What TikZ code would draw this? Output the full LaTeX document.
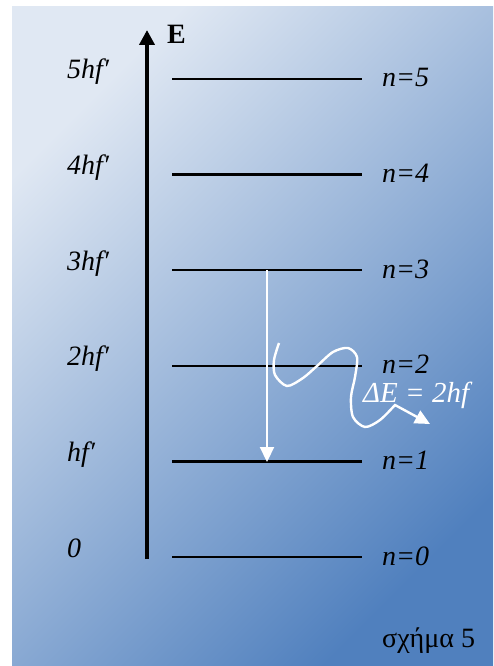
\documentclass[tikz,border=0pt]{standalone}
\usepackage{fontspec}
\setmainfont{Liberation Serif}
\usetikzlibrary{arrows.meta}
\definecolor{bgtop}{RGB}{224,232,243}
\definecolor{bgbot}{RGB}{80,128,190}

\begin{document}
\begin{tikzpicture}[x=1pt,y=-1pt,
  level/.style={line width=2.3pt},
  elabel/.style={anchor=base west,inner sep=0pt,font=\fontsize{28}{32}\selectfont\itshape},
  nlabel/.style={anchor=base west,inner sep=0pt,font=\fontsize{28}{32}\selectfont\itshape}]
  \useasboundingbox (0,0) rectangle (493,666);
  % background
  \shade[top color=bgtop,bottom color=bgbot,shading angle=45] (12,7) rectangle (493,666);
  % energy axis
  \coordinate (axbot) at (147,559);
  \coordinate (axtop) at (147,30);
  \draw[line width=4.5pt,-{Triangle[length=15pt,width=15pt]}] (axbot) -- (axtop);
  \node[anchor=base west,inner sep=0pt,font=\fontsize{28}{32}\selectfont\bfseries] (E) at (167,44) {E};
  % energy levels
  \foreach \n/\lab in {0/0,1/hf′,2/2hf′,3/3hf′,4/4hf′,5/5hf′}{
    \coordinate (lv\n-l) at (172,557-95.6*\n);
    \coordinate (lv\n-r) at (362,557-95.6*\n);
    \draw[level] (lv\n-l) -- (lv\n-r);
    \node[elabel] (e\n) at (67,557-95.6*\n) {\lab};
    \node[nlabel] (n\n) at (382,565-95.6*\n) {n=\n};
  }
  % transition n=3 -> n=1
  \coordinate (tr-top) at (267,270);
  \coordinate (tr-bot) at (267,462);
  \draw[white,line width=2.2pt,-{Triangle[length=15pt,width=14pt]}] (tr-top) -- (tr-bot);
  % emitted photon
  \coordinate (ph-start) at (279,343);
  \coordinate (ph-end) at (430,424);
  \draw[white,line width=2.4pt,-{Triangle[length=15pt,width=14pt]}] plot[smooth] coordinates
    {(ph-start)(274,360)(275,375)(287,386)(303,378)(317,366)(333,352)(348,348)
     (357,357)(355,377)(351,397)(353,417)(365,427)(380,420)(395,405)} -- (ph-end);
  \node[anchor=base west,inner sep=0pt,white,font=\fontsize{29}{32}\selectfont\itshape] (dE) at (363,402) {ΔE = 2hf};
  % caption
  \node[anchor=base west,inner sep=0pt,font=\fontsize{28}{32}\selectfont] (cap) at (382,647) {σχήμα 5};
\end{tikzpicture}
\end{document}
